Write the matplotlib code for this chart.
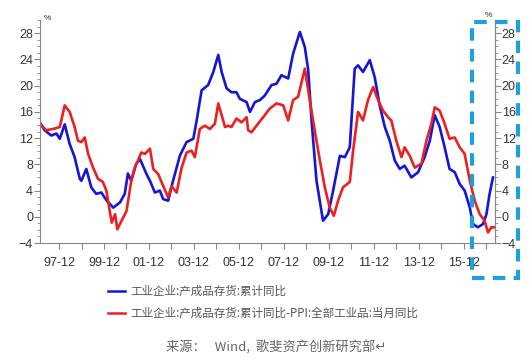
import numpy as np
import matplotlib.pyplot as plt
from matplotlib.patches import Rectangle
from matplotlib.ticker import MultipleLocator, FixedLocator

plt.rcParams['font.family'] = ['Liberation Sans', 'Noto Sans CJK SC', 'DejaVu Sans']

# 工业企业:产成品存货:累计同比 (decimal year, %)
inv_t = [1997.06, 1997.28, 1997.57, 1997.80, 1997.95, 1998.17, 1998.39, 1998.61, 1998.84, 1998.91,
         1999.13, 1999.35, 1999.57, 1999.80, 2000.04, 2000.33, 2000.63, 2000.84, 2000.98, 2001.13,
         2001.35, 2001.52, 2001.81, 2001.96, 2002.18, 2002.40, 2002.55, 2002.77, 2002.99, 2003.29,
         2003.59, 2003.89, 2004.04, 2004.26, 2004.55, 2004.78, 2005.00, 2005.15, 2005.37, 2005.59,
         2005.81, 2005.96, 2006.26, 2006.41, 2006.63, 2006.85, 2007.07, 2007.37, 2007.59, 2007.81,
         2008.11, 2008.33, 2008.63, 2008.85, 2009.00, 2009.15, 2009.37, 2009.66, 2009.89, 2010.11,
         2010.41, 2010.63, 2010.85, 2011.07, 2011.22, 2011.44, 2011.74, 2011.96, 2012.18, 2012.41,
         2012.63, 2012.85, 2013.07, 2013.29, 2013.59, 2013.89, 2014.18, 2014.41, 2014.63, 2014.85,
         2015.07, 2015.29, 2015.52, 2015.74, 2015.96, 2016.19, 2016.33, 2016.55, 2016.78, 2016.93,
         2017.07, 2017.22]
inv_v = [14.4, 13.2, 12.4, 12.7, 11.9, 14.1, 11.1, 9.1, 5.8, 5.5,
         7.3, 4.5, 3.5, 3.7, 2.45, 1.4, 2.2, 3.5, 6.6, 5.5,
         8.1, 8.8, 6.5, 5.5, 3.7, 4.0, 2.7, 2.45, 5.5, 9.3,
         11.4, 11.9, 14.7, 19.3, 20.1, 22.1, 24.7, 22.1, 19.6, 19.0,
         19.0, 18.0, 17.5, 16.0, 17.5, 17.8, 18.5, 20.1, 20.3, 21.6,
         21.1, 24.9, 28.2, 25.9, 22.4, 14.7, 5.5, -0.6, 0.4, 4.0,
         9.3, 9.1, 10.6, 22.6, 23.1, 22.1, 23.9, 21.3, 17.0, 13.7,
         11.6, 8.6, 7.3, 7.8, 6.0, 6.8, 9.1, 11.6, 15.5, 13.7,
         10.6, 7.3, 6.8, 5.0, 4.0, 1.4, -1.1, -1.6, -1.1, 0.4,
         3.5, 6.0]

# 工业企业:产成品存货:累计同比-PPI:全部工业品:当月同比
real_t = [1997.06, 1997.35, 1997.65, 1997.95, 1998.17, 1998.39, 1998.61, 1998.76, 1998.91, 1999.06,
          1999.21, 1999.43, 1999.65, 1999.87, 2000.02, 2000.26, 2000.41, 2000.51, 2000.70, 2000.92,
          2001.13, 2001.28, 2001.43, 2001.57, 2001.74, 2001.96, 2002.11, 2002.33, 2002.55, 2002.77,
          2002.92, 2003.15, 2003.37, 2003.59, 2003.81, 2003.96, 2004.18, 2004.40, 2004.63, 2004.85,
          2005.00, 2005.15, 2005.30, 2005.44, 2005.59, 2005.81, 2006.04, 2006.26, 2006.33, 2006.48,
          2006.70, 2007.00, 2007.29, 2007.59, 2007.89, 2008.11, 2008.33, 2008.55, 2008.85, 2009.07,
          2009.29, 2009.52, 2009.74, 2009.96, 2010.14, 2010.33, 2010.55, 2010.85, 2011.00, 2011.22,
          2011.44, 2011.66, 2011.89, 2012.11, 2012.33, 2012.55, 2012.70, 2012.92, 2013.15, 2013.29,
          2013.52, 2013.74, 2014.04, 2014.26, 2014.48, 2014.63, 2014.85, 2015.07, 2015.29, 2015.52,
          2015.74, 2015.96, 2016.19, 2016.41, 2016.63, 2016.85, 2017.00, 2017.15, 2017.29]
real_v = [14.2, 13.2, 13.4, 13.7, 17.0, 16.0, 13.7, 11.6, 11.4, 12.1,
          9.6, 7.5, 5.8, 5.3, 4.0, -0.9, 0.4, -1.9, -0.6, 0.9,
          5.5, 7.5, 8.6, 9.8, 9.6, 10.4, 7.3, 6.5, 4.7, 2.95,
          4.7, 3.7, 7.5, 9.8, 10.1, 9.1, 13.4, 13.9, 13.4, 14.2,
          17.3, 15.5, 13.7, 13.9, 13.7, 15.0, 14.4, 15.2, 13.2, 12.9,
          13.9, 15.2, 16.5, 17.3, 17.0, 14.7, 17.8, 18.3, 22.6, 17.8,
          13.2, 8.6, 4.5, 1.4, 0.15, 2.45, 4.5, 5.3, 10.1, 16.0,
          14.7, 17.8, 19.8, 17.8, 16.2, 15.2, 14.7, 11.6, 9.1, 10.6,
          9.3, 7.5, 8.1, 11.6, 14.2, 16.7, 16.2, 14.2, 11.9, 12.1,
          10.6, 9.6, 5.5, 2.45, 0.4, -0.6, -2.4, -1.6, -1.6]

years = list(range(1997, 2017))
y_ticks = [-4, 0, 4, 8, 12, 16, 20, 24, 28]
label1 = '工业企业:产成品存货:累计同比'
label2 = '工业企业:产成品存货:累计同比-PPI:全部工业品:当月同比'
source = '来源：   Wind,  歌斐资产创新研究部↵'

fig = plt.figure(figsize=(5.32, 3.6), dpi=100)
ax = fig.add_axes([0.0752, 0.325, 0.8548, 0.619])

blue = '#1515d8'
red = '#ec2020'
ax.plot(inv_t, inv_v, color=blue, lw=1.9, solid_joinstyle='round')
ax.plot(real_t, real_v, color=red, lw=1.9, solid_joinstyle='round')

ax.set_xlim(1997.07, 2017.3)
ax.set_ylim(-4, 30)

spine_c = '#888888'
txt_c = '#333333'
for s in ['top']:
    ax.spines[s].set_visible(False)
for s in ['left', 'bottom', 'right']:
    ax.spines[s].set_color(spine_c)

xt = [y + 11 / 12 for y in years]
ax.xaxis.set_major_locator(FixedLocator(xt))
ax.set_xticklabels(['%02d-12' % (y % 100) if (y - 1997) % 2 == 0 else '' for y in years])
ax.set_yticks(y_ticks)
ax.yaxis.set_minor_locator(MultipleLocator(1))
ax.tick_params(axis='both', colors=spine_c, labelcolor=txt_c, labelsize=9, length=4, width=0.8)
ax.tick_params(axis='y', which='minor', length=2, color=spine_c)
ax.tick_params(axis='x', pad=6)
ax.tick_params(axis='y', pad=1)

ax2 = ax.twinx()
ax2.set_ylim(-4, 30)
ax2.set_yticks(y_ticks)
ax2.yaxis.set_minor_locator(MultipleLocator(1))
for s in ['top', 'left', 'bottom']:
    ax2.spines[s].set_visible(False)
ax2.spines['right'].set_color(spine_c)
ax2.tick_params(axis='y', colors=spine_c, labelcolor=txt_c, labelsize=9, length=4, width=0.8, pad=1)
ax2.tick_params(axis='y', which='minor', length=2, color=spine_c)

fig.text(0.082, 0.945, '%', fontsize=6, color=txt_c)
fig.text(0.912, 0.953, '%', fontsize=6, color=txt_c)

# legend drawn by hand below the axes
fig.add_artist(plt.Line2D([108 / 532, 125 / 532], [1 - 291 / 360] * 2, color=blue, lw=1.8))
fig.add_artist(plt.Line2D([108 / 532, 125 / 532], [1 - 313 / 360] * 2, color=red, lw=1.8))
fig.text(130 / 532, 1 - 291 / 360, label1, fontsize=8.3, color='#555555', va='center',
         family=['Noto Sans CJK SC', 'DejaVu Sans'])
fig.text(130 / 532, 1 - 313 / 360, label2, fontsize=8.3, color='#555555', va='center',
         family=['Noto Sans CJK SC', 'DejaVu Sans'])
fig.text(166 / 532, 1 - 348 / 360, source, fontsize=9.5, color='#666666', va='center',
         family=['Noto Sans CJK SC', 'DejaVu Sans'])

# highlighted region
fig.add_artist(Rectangle((472 / 532, 1 - 278 / 360), 46 / 532, 256 / 360, fill=False,
                         ec='#1fa0dc', lw=3, ls=(0, (3, 2)), transform=fig.transFigure))

fig.savefig('out.png', dpi=100)
